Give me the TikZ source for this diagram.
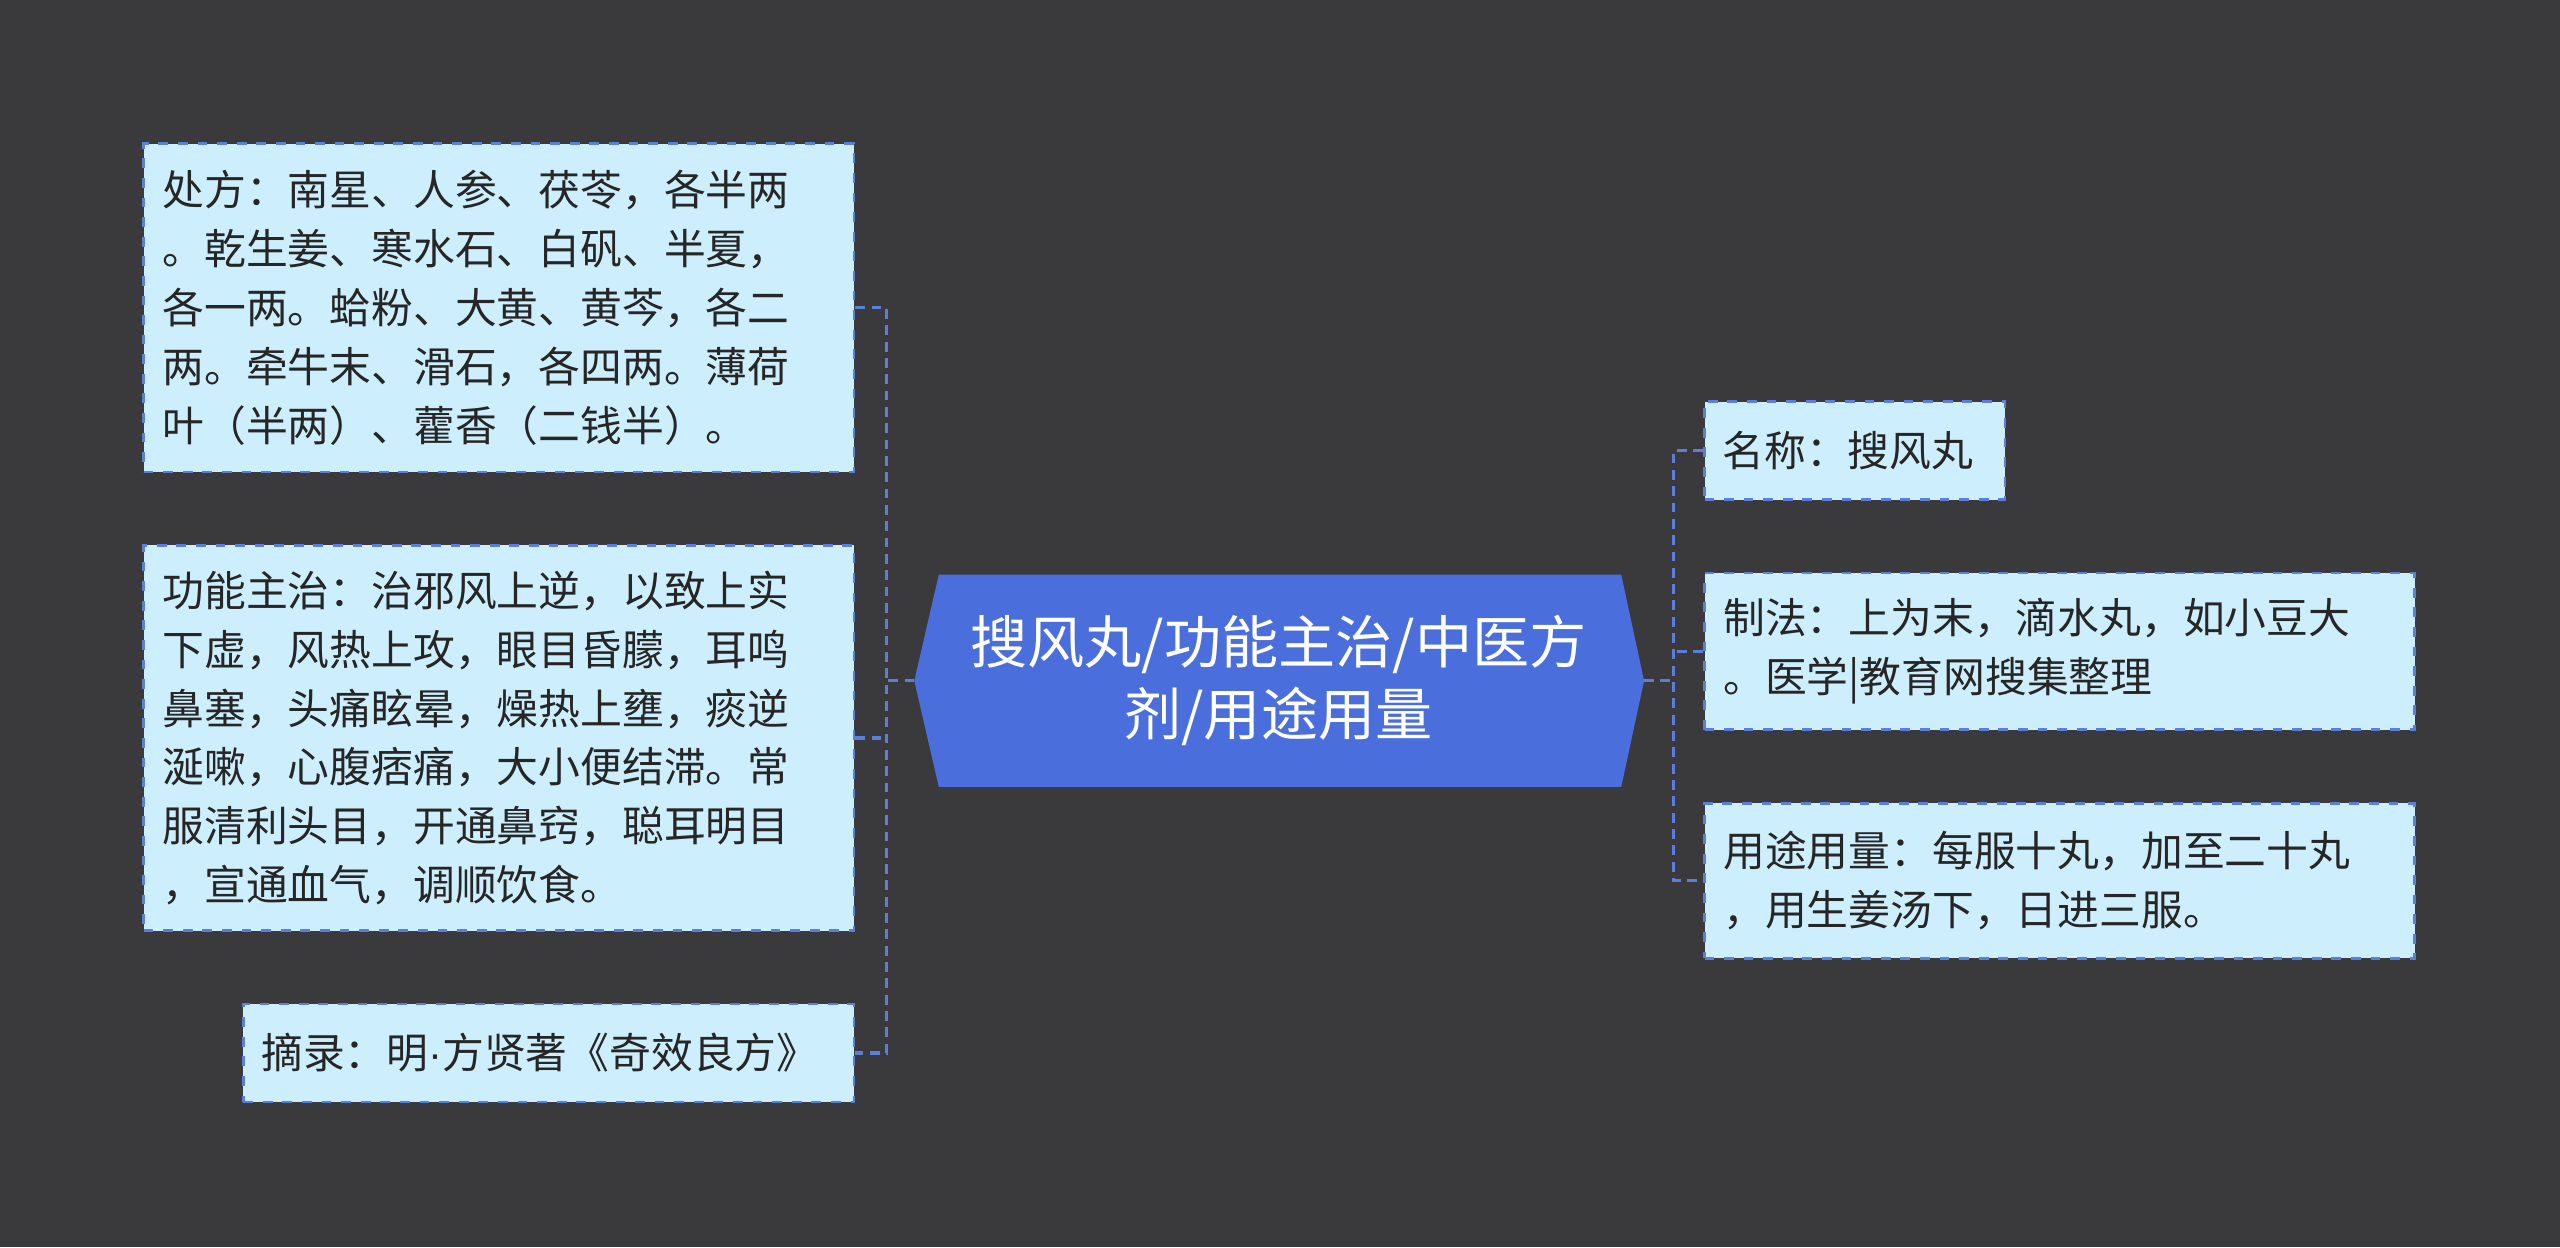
\documentclass[tikz,border=0pt]{standalone}
\usepackage{fontspec}
\setmainfont{Noto Sans CJK SC}
\newfontfamily\latinf{Liberation Sans}
\begin{document}
\begin{tikzpicture}[x=0.5pt,y=-0.5pt,
 box/.style={draw=lineblue,dashed,fill=boxfill,line width=0.8pt,inner sep=0pt,align=left,font=\fontsize{12.8pt}{18pt}\selectfont,text=black!85},
 conn/.style={draw=lineblue,dash pattern=on 3pt off 2pt,line width=1pt}]
\definecolor{bg}{HTML}{3A393B}
\definecolor{boxfill}{HTML}{CDEFFD}
\definecolor{lineblue}{HTML}{5B7FD8}
\definecolor{cfill}{HTML}{4A6EDC}
\fill[bg] (0,0) rectangle (1568,764);
\useasboundingbox (0,0) rectangle (1568,764);
% left boxes
\node[box,minimum width=217.5pt,minimum height=100.5pt,text width=206pt] (b1) at (305.5,188.5) {处方：南星、人参、茯苓，各半两\\。乾生姜、寒水石、白矾、半夏，\\各一两。蛤粉、大黄、黄芩，各二\\两。牵牛末、滑石，各四两。薄荷\\叶（半两）、藿香（二钱半）。};
\node[box,minimum width=217.5pt,minimum height=118pt,text width=206pt] (b2) at (305.5,452) {功能主治：治邪风上逆，以致上实\\下虚，风热上攻，眼目昏朦，耳鸣\\鼻塞，头痛眩晕，燥热上壅，痰逆\\涎嗽，心腹痞痛，大小便结滞。常\\服清利头目，开通鼻窍，聪耳明目\\，宣通血气，调顺饮食。};
\node[box,minimum width=187pt,minimum height=30pt,text width=176pt] (b3) at (336,645) {摘录：明{\latinf ·}方贤著《奇效良方》};
% right boxes
\node[box,minimum width=92pt,minimum height=30pt,text width=81pt] (r1) at (1136,276) {名称：搜风丸};
\node[box,minimum width=217.5pt,minimum height=48pt,text width=206pt] (r2) at (1261.5,399) {制法：上为末，滴水丸，如小豆大\\。医学|教育网搜集整理};
\node[box,minimum width=217.5pt,minimum height=47.5pt,text width=206pt] (r3) at (1261.5,539.5) {用途用量：每服十丸，加至二十丸\\，用生姜汤下，日进三服。};
% center
\fill[cfill] (560,417) -- (575,352) -- (993,352) -- (1007,417) -- (993,482) -- (575,482) -- cycle;
\node[text=white,align=center,font=\fontsize{17.5pt}{22pt}\selectfont] (c) at (783,417) {搜风丸/功能主治/中医方\\剂/用途用量};
\coordinate (cl) at (560,417);
\coordinate (cr) at (1007,417);
\coordinate (jl) at (543,417);
\coordinate (jr) at (1025,417);
\draw[conn] (cl) -- (jl);
\draw[conn] (b1.east) -- (b1.east -| jl) -- (b3.east -| jl) -- (b3.east);
\draw[conn] (b2.east) -- (b2.east -| jl);
\draw[conn] (cr) -- (jr);
\draw[conn] (r1.west) -- (r1.west -| jr) -- (r3.west -| jr) -- (r3.west);
\draw[conn] (r2.west) -- (r2.west -| jr);
\end{tikzpicture}
\end{document}
